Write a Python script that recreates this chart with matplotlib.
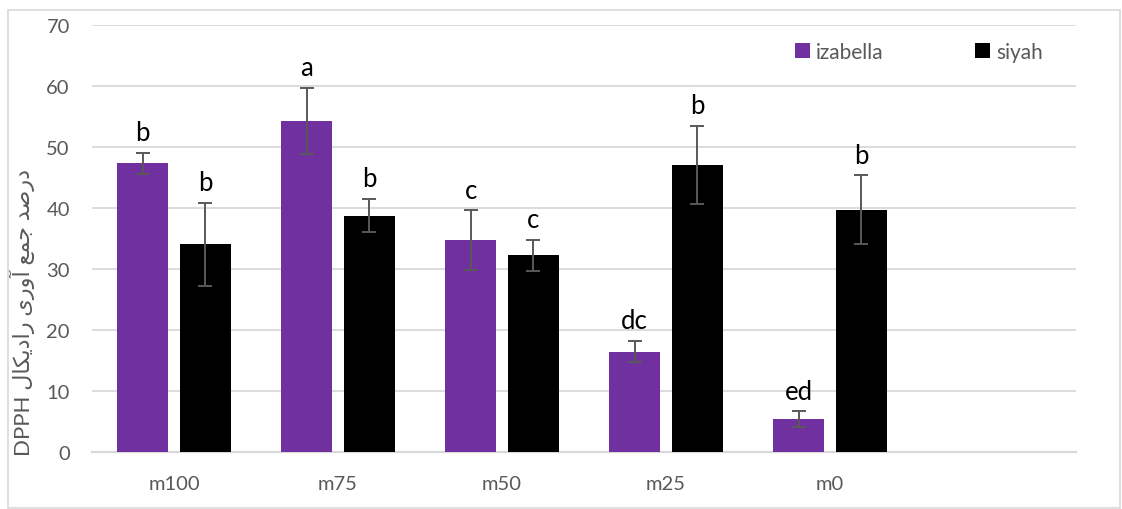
import numpy as np
import matplotlib
matplotlib.use("Agg")
import matplotlib.pyplot as plt
from matplotlib.patches import Rectangle

# ── data ──────────────────────────────────────────────────────────────────────
categories = ["m100", "m75", "m50", "m25", "m0"]
izabella = [47.3, 54.2, 34.7, 16.4, 5.3]
izabella_err = [1.7, 5.4, 4.85, 1.75, 1.3]
siyah = [34.0, 38.7, 32.2, 47.0, 39.7]
siyah_err = [6.8, 2.7, 2.5, 6.35, 5.6]
izabella_letters = ["b", "a", "c", "dc", "ed"]
siyah_letters = ["b", "b", "c", "b", "b"]
yticks = [0, 10, 20, 30, 40, 50, 60, 70]

# Persian label, pre-shaped (presentation forms) in visual order: "درصد جمع آوری رادیکال DPPH"
ylabel = ("DPPH "
          "\uFEDD\uFE8E\uFB91\uFEF3\uFEA9\uFE8D\uFEAD "
          "\uFEEF\uFEAD\uFEED\uFE81 "
          "\uFECA\uFEE4\uFE9F "
          "\uFEAA\uFEBB\uFEAD\uFEA9")

PURPLE = "#7030A0"
GRAY = "#595959"
GRID = "#D9D9D9"

plt.rcParams["font.family"] = ["Lato", "DejaVu Sans"]

fig = plt.figure(figsize=(11.22, 5.10), dpi=100)
ax = fig.add_axes([92 / 1122, 1 - 452.7 / 510, (1076 - 92) / 1122, (452.7 - 25.7) / 510])

# outer chart border
fig.patches.append(Rectangle((8 / 1122, 1 / 510), 1112 / 1122, 498 / 510,
                             transform=fig.transFigure, fill=False,
                             edgecolor=GRID, lw=1.2))

x = np.arange(len(categories))
w = 0.309
off = 0.191
ekw = dict(ecolor=GRAY, elinewidth=1.4, capsize=5, capthick=1.4)
b1 = ax.bar(x - off, izabella, w, color=PURPLE, yerr=izabella_err,
            error_kw=ekw, label="izabella", zorder=3)
b2 = ax.bar(x + off, siyah, w, color="black", yerr=siyah_err,
            error_kw=ekw, label="siyah", zorder=3)

for xi, v, e, t in zip(x - off, izabella, izabella_err, izabella_letters):
    ax.text(xi, v + e + 2.1, t, ha="center", va="baseline", fontsize=18.5, color="black")
for xi, v, e, t in zip(x + off, siyah, siyah_err, siyah_letters):
    ax.text(xi, v + e + 2.1, t, ha="center", va="baseline", fontsize=18.5, color="black")

ax.set_xlim(-0.5, 5.5)
ax.set_ylim(0, 70)
ax.set_xticks(x)
ax.set_xticklabels(categories)
ax.set_yticks(yticks)
ax.tick_params(axis="both", length=0, labelsize=14.5, labelcolor=GRAY)
ax.tick_params(axis="x", pad=17)
ax.tick_params(axis="y", pad=16)
ax.grid(axis="y", color=GRID, lw=1.3, zorder=0)
ax.set_axisbelow(True)
for s in ["top", "right", "left"]:
    ax.spines[s].set_visible(False)
ax.spines["bottom"].set_color(GRID)
ax.spines["bottom"].set_linewidth(1.6)

fig.text(22 / 1122, 1 - 312 / 510, ylabel, rotation=90, ha="center", va="center",
         fontsize=16, color=GRAY)

ax.legend(handles=[b1, b2], loc="upper left", bbox_to_anchor=(795 / 1122, 1 - 43 / 510),
          bbox_transform=fig.transFigure, ncol=2, frameon=False, fontsize=15,
          handlelength=0.7, handleheight=0.7, handletextpad=0.3,
          columnspacing=4.4, borderpad=0, borderaxespad=0, labelcolor=GRAY)

fig.savefig("out.png", dpi=100)
